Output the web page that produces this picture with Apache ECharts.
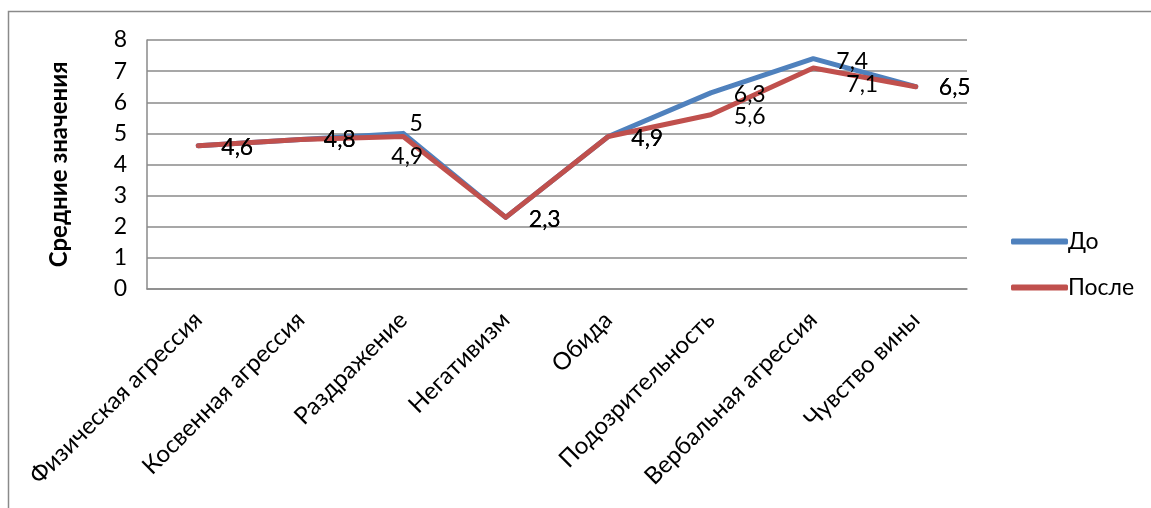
<!DOCTYPE html>
<html><head><meta charset="utf-8">
<script src="https://cdn.jsdelivr.net/npm/echarts@6/dist/echarts.min.js"></script>
<style>html,body{margin:0;padding:0;background:#fff}#c{width:1151px;height:508px}</style>
</head><body><div id="c"></div>
<script>
const categories = ['Физическая агрессия','Косвенная агрессия','Раздражение','Негативизм','Обида','Подозрительность','Вербальная агрессия','Чувство вины'];
const before = [4.6, 4.8, 5, 2.3, 4.9, 6.3, 7.4, 6.5];
const after = [4.6, 4.8, 4.9, 2.3, 4.9, 5.6, 7.1, 6.5];
const yTicks = [0,1,2,3,4,5,6,7,8];
const seriesNames = ['До','После'];

// label offsets (pixels, relative to the point)
const beforeLabelOffsets = [[39,2],[39,0],[13,-10],[39,2],[39,2],[39,2],[39,3],[39,1]];
const afterLabelOffsets  = [[39,2],[39,0],[4,20],[39,2],[39,2],[39,2],[49,17],[39,1]];

const FONT = 'Lato, "Open Sans", sans-serif';
function mk(values, offs){
  return values.map((v,i)=>({value:v,label:{offset:offs[i]}}));
}
const chart = echarts.init(document.getElementById('c'), null, {renderer:'canvas'});
chart.setOption({
  animation:false,
  textStyle:{fontFamily:FONT},
  graphic:[{type:'rect',shape:{x:8.5,y:11.5,width:1200,height:600},style:{fill:'none',stroke:'#8a8a8a',lineWidth:1.5},silent:true}],
  grid:{left:147,right:184,top:40,bottom:219,containLabel:false},
  legend:{
    orient:'vertical',left:1006,top:225,itemWidth:57,itemHeight:6,itemGap:23,icon:'roundRect',
    textStyle:{fontFamily:FONT,fontSize:23,color:'#000',padding:[0,0,0,-5]},
    data:seriesNames
  },
  xAxis:{
    type:'category',data:categories,boundaryGap:true,
    axisLine:{show:true,lineStyle:{color:'#8a8a8a',width:1.5}},
    axisTick:{show:false},
    axisLabel:{rotate:45,interval:0,margin:27,fontFamily:FONT,fontSize:24,color:'#000'}
  },
  yAxis:{
    type:'value',min:0,max:8,interval:1,
    name:'Средние значения',nameLocation:'middle',nameGap:76,nameRotate:90,
    nameTextStyle:{fontFamily:FONT,fontSize:24,fontWeight:'bold',color:'#000'},
    axisLine:{show:true,lineStyle:{color:'#8a8a8a',width:1.5}},
    axisTick:{show:false},
    splitLine:{show:true,lineStyle:{color:'#8a8a8a',width:1.5}},
    axisLabel:{margin:20,fontFamily:FONT,fontSize:23,color:'#000',formatter:v=>yTicks.includes(v)?String(v):''}
  },
  series:[
    {name:seriesNames[0],type:'line',data:mk(before,beforeLabelOffsets),symbol:'circle',symbolSize:1,
     itemStyle:{color:'#4F81BD'},lineStyle:{color:'#4F81BD',width:5,cap:'round',join:'round'},
     label:{show:true,position:'inside',fontFamily:FONT,fontSize:23,color:'#000',formatter:p=>String(p.value).replace('.',',')}},
    {name:seriesNames[1],type:'line',data:mk(after,afterLabelOffsets),symbol:'circle',symbolSize:1,
     itemStyle:{color:'#C0504D'},lineStyle:{color:'#C0504D',width:5,cap:'round',join:'round'},
     label:{show:true,position:'inside',fontFamily:FONT,fontSize:23,color:'#000',formatter:p=>String(p.value).replace('.',',')}}
  ]
});
</script></body></html>
